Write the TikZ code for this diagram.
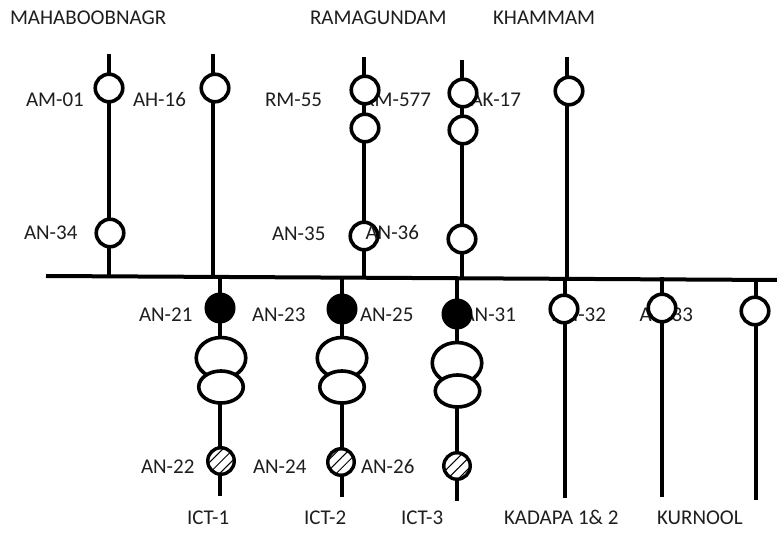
\documentclass[tikz,border=0pt]{standalone}
\usepackage{fontspec}
\setmainfont{Carlito}
\usetikzlibrary{shapes.geometric,patterns.meta,backgrounds}
\definecolor{ink}{HTML}{1E1E1E}
\tikzset{
  x=1pt,y=-1pt,
  wire/.style={line width=4pt,black},
  bkr/.style={circle,draw=black,line width=3.6pt,fill=white,minimum size=27.5pt,inner sep=0pt,outer sep=0pt},
  bkrsolid/.style={circle,draw=black,fill=black,line width=1pt,minimum size=30pt,inner sep=0pt,outer sep=0pt},
  bkrhatch/.style={circle,draw=black,line width=3.4pt,minimum size=26.5pt,inner sep=0pt,outer sep=0pt,fill=white,
    postaction={pattern={Lines[angle=45,distance=7.5pt,line width=1pt]},pattern color=black}},
  xfhi/.style={ellipse,draw=black,line width=3.6pt,fill=white,minimum width=49.5pt,minimum height=41pt,inner sep=0pt,outer sep=0pt},
  xflo/.style={ellipse,draw=black,line width=3.6pt,fill=white,minimum width=44.5pt,minimum height=32pt,inner sep=0pt,outer sep=0pt},
  lbl/.style={anchor=base west,inner sep=0pt,outer sep=0pt,yshift=-1.5pt,text=ink,font=\fontsize{21}{24}\selectfont},
  lblr/.style={lbl,anchor=base east},
}
\begin{document}
\begin{tikzpicture}
\useasboundingbox (0,0) rectangle (777,534);

% free ends of the feeders
\coordinate (busL) at (46,276);
\coordinate (busR) at (777,280);
\coordinate (t1) at (109,54);   \coordinate (j1) at (109,276);
\coordinate (t2) at (213,54);   \coordinate (j2) at (213,276);
\coordinate (t3) at (363.5,57); \coordinate (j3) at (363.5,277);
\coordinate (t4) at (462,60);   \coordinate (j4) at (462,278);
\coordinate (t5) at (567,57);   \coordinate (j5) at (567,278);
\coordinate (a1) at (220,277);  \coordinate (b1) at (220,496);
\coordinate (a2) at (342,277);  \coordinate (b2) at (342,497);
\coordinate (a3) at (457,278);  \coordinate (b3) at (457,501);
\coordinate (a4) at (565,278);  \coordinate (b4) at (565,498);
\coordinate (a5) at (662,277);  \coordinate (b5) at (662,497);
\coordinate (a6) at (756,279);  \coordinate (b6) at (756,500);

% labels that lie behind the breakers
\node[lbl]  (lMah) at (10,23)  {MAHABOOBNAGR};
\node[lbl]  (lRam) at (310,23) {RAMAGUNDAM};
\node[lbl]  (lKha) at (493,23) {KHAMMAM};
\node[lbl]  (lAM)  at (26,105) {AM-01};
\node[lbl]  (lAH)  at (133,105) {AH-16};
\node[lbl]  (lRM)  at (265,105) {RM-55};
\node[lblr] (lRM5) at (431,105) {RM-577};
\node[lblr] (lAK)  at (521,105) {AK-17};
\node[lbl]  (l34)  at (24,238) {AN-34};
\node[lbl]  (l35)  at (272,239) {AN-35};
\node[lbl]  (l21)  at (139,320) {AN-21};
\node[lbl]  (l23)  at (252,320) {AN-23};
\node[lbl]  (l25)  at (360,320) {AN-25};
\node[lblr] (l31)  at (516,320) {AN-31};
\node[lblr] (l32)  at (606,320) {AN-32};
\node[lblr] (l33)  at (693,320) {AN-33};
\node[lbl]  (l22)  at (141,472) {AN-22};
\node[lbl]  (l24)  at (253,472) {AN-24};
\node[lbl]  (l26)  at (361,472) {AN-26};
\node[lbl]  (lI1)  at (187,523) {ICT-1};
\node[lbl]  (lI2)  at (304,523) {ICT-2};
\node[lbl]  (lI3)  at (401,523) {ICT-3};
\node[lbl]  (lKad) at (504,523) {KADAPA 1\& 2};
\node[lbl]  (lKur) at (657,523) {KURNOOL};

% upper feeders
\node[bkr] (n1a) at (109,88) {};
\node[bkr] (n1b) at (110,233) {};
\node[bkr] (n2a) at (215,88) {};
\node[bkr] (n3a) at (365,90) {};
\node[bkr] (n3b) at (365,128) {};
\node[bkr] (n3c) at (364,236) {};
\node[bkr] (n4a) at (463,93) {};
\node[bkr] (n4b) at (463,130) {};
\node[bkr] (n4c) at (462,239) {};
\node[bkr] (n5a) at (569,91) {};

% transformer bays
\node[bkrsolid] (s1) at (220,308) {};
\node[xfhi] (h1) at (221,358) {};
\node[xflo] (o1) at (221,387) {};
\node[bkrhatch] (c1) at (221,461) {};
\node[bkrsolid] (s2) at (342,309) {};
\node[xfhi] (h2) at (342,358) {};
\node[xflo] (o2) at (342,387) {};
\node[bkrhatch] (c2) at (341,462) {};
\node[bkrsolid] (s3) at (457,314) {};
\node[xfhi] (h3) at (457,363) {};
\node[xflo] (o3) at (457.5,391) {};
\node[bkrhatch] (c3) at (457,466) {};

% lower feeders
\node[bkr] (n6) at (564,309) {};
\node[bkr] (n7) at (662,308) {};
\node[bkr] (n8) at (755,311) {};

% labels on top
\node[lblr] (l36) at (419,238) {AN-36};

\begin{scope}[on background layer]
  \draw[wire] (busL) -- (busR);
  \draw[wire] (t1) -- (t1 |- n1a);
  \draw[wire] (t1 |- n1a) -- (t1 |- n1b);
  \draw[wire] (t1 |- n1b) -- (j1);
  \draw[wire] (t2) -- (t2 |- n2a);
  \draw[wire] (t2 |- n2a) -- (j2);
  \draw[wire] (t3) -- (t3 |- n3a);
  \draw[wire] (t3 |- n3a) -- (t3 |- n3b);
  \draw[wire] (t3 |- n3b) -- (t3 |- n3c);
  \draw[wire] (t3 |- n3c) -- (j3);
  \draw[wire] (t4) -- (t4 |- n4a);
  \draw[wire] (t4 |- n4a) -- (t4 |- n4b);
  \draw[wire] (t4 |- n4b) -- (t4 |- n4c);
  \draw[wire] (t4 |- n4c) -- (j4);
  \draw[wire] (t5) -- (t5 |- n5a);
  \draw[wire] (t5 |- n5a) -- (j5);
  \foreach \i in {1,2,3}{
    \draw[wire] (a\i) -- (a\i |- s\i);
    \draw[wire] (a\i |- s\i) -- (a\i |- h\i);
    \draw[wire] (a\i |- o\i) -- (a\i |- c\i);
    \draw[wire] (a\i |- c\i) -- (b\i);
  }
  \draw[wire] (a4) -- (a4 |- n6);
  \draw[wire] (a4 |- n6) -- (b4);
  \draw[wire] (a5) -- (a5 |- n7);
  \draw[wire] (a5 |- n7) -- (b5);
  \draw[wire] (a6) -- (a6 |- n8);
  \draw[wire] (a6 |- n8) -- (b6);
\end{scope}
\end{tikzpicture}
\end{document}
